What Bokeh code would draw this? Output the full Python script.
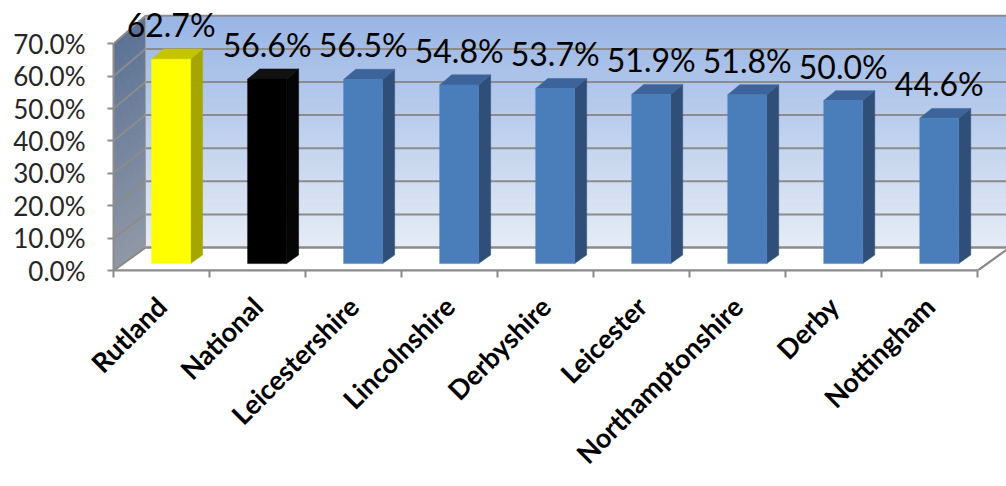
import numpy as np
from math import pi
from bokeh.plotting import figure
from bokeh.models import Range1d, LinearAxis, FixedTicker
from bokeh.core.properties import value
from bokeh.embed import file_html
from bokeh.resources import INLINE

# ---- data ----
categories = ["Rutland", "National", "Leicestershire", "Lincolnshire", "Derbyshire",
              "Leicester", "Northamptonshire", "Derby", "Nottingham"]
values = [62.7, 56.6, 56.5, 54.8, 53.7, 51.9, 51.8, 50.0, 44.6]
value_labels = ["62.7%", "56.6%", "56.5%", "54.8%", "53.7%", "51.9%", "51.8%", "50.0%", "44.6%"]
y_ticks = [0, 10, 20, 30, 40, 50, 60, 70]
y_tick_labels = ["0.0%", "10.0%", "20.0%", "30.0%", "40.0%", "50.0%", "60.0%", "70.0%"]

front_colors = ["#ffff00", "#000000"] + ["#4a7ebb"] * 7
top_colors = ["#c4c400", "#111111"] + ["#3c649a"] * 7
side_colors = ["#a6a600", "#050505"] + ["#2f4f78"] * 7

# ---- 3D projection helpers (depth d in 0..1) ----
DX = 0.333
DY = 7.1
K = 0.022
def proj(x, y, d):
    return x + d * DX, y * (1 + K * d) + d * DY

n = len(categories)
ymax = y_ticks[-1]
GRID = "#8c8c8c"

p = figure(width=1006, height=486, output_backend="svg", toolbar_location=None,
           x_range=Range1d(0, 9.30), y_range=Range1d(0, 81.2),
           min_border_left=113, min_border_right=0, min_border_top=7, min_border_bottom=216,
           outline_line_color=None, background_fill_color="white", border_fill_color="white")
p.xaxis.visible = False
p.yaxis.visible = False
p.xgrid.visible = False
p.ygrid.visible = False

# ---- back wall gradient ----
NB = 60
top_c = np.array([0x98, 0xb5, 0xe5])
bot_c = np.array([0xe6, 0xec, 0xf6])
edges = np.linspace(0, ymax, NB + 1)
bl, bb, br, bt, bc = [], [], [], [], []
sx, sy, sc = [], [], []
side_top = np.array([0x5b, 0x72, 0x96])
side_bot = np.array([0x90, 0x98, 0xa6])
for i in range(NB):
    g0, g1 = edges[i], edges[i + 1]
    t = (g0 + g1) / 2 / ymax
    col = bot_c + (top_c - bot_c) * t
    bc.append("#%02x%02x%02x" % tuple(int(round(c)) for c in col))
    x0, y0 = proj(0, g0, 1)
    x1, y1 = proj(n, g1, 1)
    bl.append(x0); br.append(x1); bb.append(y0); bt.append(y1)
    colS = side_bot + (side_top - side_bot) * t
    sc.append("#%02x%02x%02x" % tuple(int(round(c)) for c in colS))
    a = proj(0, g0, 0); b = proj(0, g1, 0); c2 = proj(0, g1, 1); d2 = proj(0, g0, 1)
    sx.append([a[0], b[0], c2[0], d2[0]])
    sy.append([a[1], b[1], c2[1], d2[1]])
p.quad(left=bl, right=br, bottom=bb, top=bt, fill_color=bc, line_color=bc, line_width=1)
p.patches(sx, sy, fill_color=sc, line_color=sc, line_width=1)

# floor
fx = [proj(0, 0, 0)[0], proj(n, 0, 0)[0], proj(n, 0, 1)[0], proj(0, 0, 1)[0]]
fy = [proj(0, 0, 0)[1], proj(n, 0, 0)[1], proj(n, 0, 1)[1], proj(0, 0, 1)[1]]
p.patch(fx, fy, fill_color="white", line_color=GRID, line_width=2)

# gridlines on back and side walls
for g in y_ticks:
    xa, ya = proj(0, g, 1)
    xb, yb = proj(n, g, 1)
    p.line([xa, xb], [ya, yb], line_color=GRID, line_width=2)
    xf, yf = proj(0, g, 0)
    p.line([xf, xa], [yf, ya], line_color=GRID, line_width=2)
# wall outlines
xa, ya = proj(0, 0, 1); xb, yb = proj(0, ymax, 1)
p.line([xa, xb], [ya, yb], line_color="#a0a0a0", line_width=1)
xa, ya = proj(n, 0, 1); xb, yb = proj(n, ymax, 1)
p.line([xa, xb], [ya, yb], line_color="#a0a0a0", line_width=1)

# ---- bars ----
centers = np.arange(n) + 0.5
HW = 0.203
D0, D1 = 0.30, 0.675
v = np.array(values)
fl = proj(centers - HW, 0, D0)[0]
fr = proj(centers + HW, 0, D0)[0]
fb = np.full(n, proj(0, 0, D0)[1])
ft = proj(0, v, D0)[1]

side_xs, side_ys, top_xs, top_ys = [], [], [], []
for i in range(n):
    c = centers[i]
    p1 = proj(c + HW, 0, D0); p2 = proj(c + HW, v[i], D0)
    p3 = proj(c + HW, v[i], D1); p4 = proj(c + HW, 0, D1)
    side_xs.append([p1[0], p2[0], p3[0], p4[0]])
    side_ys.append([p1[1], p2[1], p3[1], p4[1]])
    q1 = proj(c - HW, v[i], D0); q2 = proj(c + HW, v[i], D0)
    q3 = proj(c + HW, v[i], D1); q4 = proj(c - HW, v[i], D1)
    top_xs.append([q1[0], q2[0], q3[0], q4[0]])
    top_ys.append([q1[1], q2[1], q3[1], q4[1]])

p.patches(side_xs, side_ys, fill_color=side_colors, line_color=side_colors, line_width=0.5)
p.patches(top_xs, top_ys, fill_color=top_colors, line_color=top_colors, line_width=0.5)
p.quad(left=fl, right=fr, bottom=fb, top=ft, fill_color=front_colors, line_color=front_colors,
       line_width=0.5)

# value labels
lx = proj(centers, 0, D0)[0]
ly = proj(0, v, D1)[1] + 7.6
p.text(x=lx, y=ly, text=value_labels, text_align="center", text_baseline="alphabetic",
       text_font=value("Lato"), text_font_size="32px", text_color="#000000")

# ---- axes ----
yax = LinearAxis(ticker=FixedTicker(ticks=y_ticks), bounds=(0, ymax),
                 major_label_overrides={t: l for t, l in zip(y_ticks, y_tick_labels)})
yax.axis_line_color = GRID
yax.axis_line_width = 2
yax.major_tick_line_color = GRID
yax.major_tick_line_width = 2
yax.major_tick_out = 6
yax.major_tick_in = 0
yax.minor_tick_out = 0
yax.minor_tick_in = 0
yax.major_label_standoff = 22
yax.major_label_text_font = "Lato"
yax.major_label_text_font_size = "26px"
yax.major_label_text_color = "#262626"
p.add_layout(yax, "left")

xax = LinearAxis(ticker=FixedTicker(ticks=list(centers), minor_ticks=list(range(n + 1))),
                 bounds=(0, n),
                 major_label_overrides={float(c): name for c, name in zip(centers, categories)})
xax.axis_line_color = GRID
xax.axis_line_width = 2
xax.major_tick_out = 0
xax.major_tick_in = 0
xax.minor_tick_line_color = GRID
xax.minor_tick_line_width = 2
xax.minor_tick_out = 7
xax.minor_tick_in = 0
xax.major_label_orientation = pi / 4
xax.major_label_standoff = 24
xax.major_label_text_font = "Lato"
xax.major_label_text_font_style = "bold"
xax.major_label_text_font_size = "27px"
xax.major_label_text_color = "#000000"
p.add_layout(xax, "below")

# right floor edge
xa, ya = proj(n, 0, 0); xb, yb = proj(n, 0, 1)
p.line([xa, xb], [ya, yb], line_color=GRID, line_width=2)

open("out.html", "w").write(file_html(p, INLINE))
